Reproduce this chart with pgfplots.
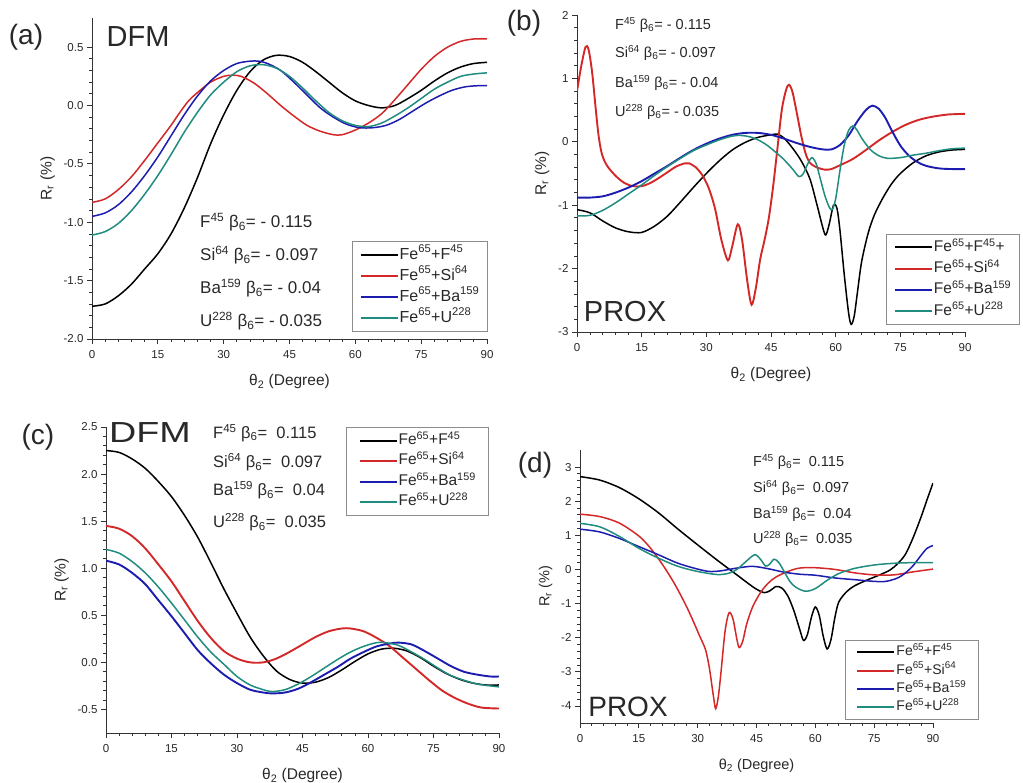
\documentclass[border=0pt]{standalone}
\usepackage{fontspec}
\setmainfont{Liberation Sans}
\usepackage{pgfplots}
\pgfplotsset{compat=1.18}
\definecolor{cred}{RGB}{212,40,40}
\definecolor{cblue}{RGB}{28,28,175}
\definecolor{cteal}{RGB}{32,140,128}
\definecolor{txt}{RGB}{40,40,40}
\pgfplotsset{
  panel/.style={
    scale only axis, axis lines=left, axis line style={-, line width=0.9pt, black!80},
    xmin=0, xmax=90, xtick={0,15,...,90}, minor x tick num=4, minor y tick num=4,
    enlargelimits=false, clip=true,
    tick align=outside, major tick length=5pt, minor tick length=3pt,
    every tick/.style={black!80, line width=0.8pt},
    ticklabel style={font=\fontsize{11.5}{12}\selectfont, text=txt},
    xticklabel style={yshift=-3pt},
    /pgf/number format/assume math mode=true,
    xlabel={θ\textsubscript{2} (Degree)},
    ylabel={R\textsubscript{r} (\%)},
    xlabel style={font=\fontsize{15.5}{17}\selectfont, text=txt, yshift=-9pt},
    ylabel style={font=\fontsize{15.5}{17}\selectfont, text=txt, yshift=2pt},
    legend cell align=left,
    legend image code/.code={\draw[##1, line width=2pt] (0pt,0pt) -- (37pt,0pt);},
    legend style={draw=black!45, line width=0.7pt, inner xsep=6pt, inner ysep=3pt,
       nodes={inner xsep=1pt, inner ysep=2.5pt, text=txt, text height=12pt, text depth=4pt}, row sep=0pt},
    every axis plot/.append style={line width=1.5pt, smooth},
  }
}
\begin{document}
\begin{tikzpicture}[x=1pt,y=1pt]
\path[use as bounding box] (0,0) rectangle (1023,783);
% ---------------- (a)
\begin{axis}[panel, at={(92pt,444pt)}, anchor=south west, width=395pt, height=321pt,
  ymin=-2, ymax=0.75, ytick={-2,-1.5,...,0.5},
  yticklabel style={/pgf/number format/.cd, fixed, fixed zerofill, precision=1},
  legend style={at={(1.003,0.022)}, anchor=south east, font=\fontsize{16}{18}\selectfont, inner xsep=7.5pt}]
\addplot[black] coordinates {(0,-1.72)(3,-1.70)(6,-1.63)(9,-1.53)(12,-1.40)(15,-1.27)(18,-1.10)(21,-0.88)(24,-0.62)(27,-0.33)(30,-0.08)(33,0.13)(36,0.29)(39,0.39)(42,0.43)(45,0.42)(48,0.37)(51,0.29)(54,0.20)(57,0.11)(60,0.04)(63,0.00)(66,-0.02)(69,0.00)(72,0.06)(75,0.13)(78,0.21)(81,0.28)(84,0.33)(87,0.36)(90,0.37)};
\addlegendentry{Fe\textsuperscript{65}+F\textsuperscript{45}}
\addplot[cred] coordinates {(0,-0.83)(3,-0.80)(6,-0.72)(9,-0.61)(12,-0.47)(15,-0.32)(18,-0.17)(20,-0.06)(22,0.04)(24,0.11)(27,0.20)(30,0.25)(32,0.26)(34,0.25)(37,0.19)(40,0.10)(43,0.00)(46,-0.09)(49,-0.17)(52,-0.22)(55,-0.25)(57,-0.25)(60,-0.21)(63,-0.15)(66,-0.07)(69,0.05)(72,0.18)(75,0.31)(78,0.42)(81,0.50)(84,0.55)(87,0.57)(90,0.57)};
\addlegendentry{Fe\textsuperscript{65}+Si\textsuperscript{64}}
\addplot[cblue] coordinates {(0,-0.95)(3,-0.92)(6,-0.85)(9,-0.74)(12,-0.60)(15,-0.44)(18,-0.26)(21,-0.08)(24,0.08)(27,0.21)(30,0.30)(33,0.36)(36,0.38)(38,0.38)(40,0.36)(43,0.30)(46,0.20)(49,0.09)(52,-0.02)(55,-0.10)(58,-0.16)(61,-0.19)(64,-0.19)(67,-0.17)(70,-0.12)(73,-0.05)(76,0.02)(79,0.08)(82,0.13)(85,0.16)(88,0.17)(90,0.17)};
\addlegendentry{Fe\textsuperscript{65}+Ba\textsuperscript{159}}
\addplot[cteal] coordinates {(0,-1.11)(3,-1.08)(6,-1.01)(9,-0.90)(12,-0.76)(15,-0.60)(18,-0.42)(21,-0.23)(24,-0.06)(27,0.09)(30,0.20)(33,0.29)(36,0.34)(39,0.35)(42,0.32)(45,0.25)(48,0.15)(51,0.04)(54,-0.06)(57,-0.13)(60,-0.17)(63,-0.18)(66,-0.15)(69,-0.09)(72,-0.02)(75,0.06)(78,0.14)(81,0.20)(84,0.25)(87,0.27)(90,0.28)};
\addlegendentry{Fe\textsuperscript{65}+U\textsuperscript{228}}
\end{axis}
% ---------------- (b)
\begin{axis}[panel, at={(577pt,451pt)}, anchor=south west, width=388pt, height=317pt,
  ymin=-3, ymax=2, ytick={-3,-2,...,2},
  legend style={at={(1.142,0.022)}, anchor=south east, font=\fontsize{15.5}{17}\selectfont,
     inner xsep=7.5pt, nodes={text height=12pt, text depth=4pt, inner ysep=2.6pt}}]
\addplot[black] coordinates {(0,-1.07)(3,-1.12)(6,-1.25)(9,-1.36)(12,-1.42)(15,-1.43)(18,-1.33)(21,-1.17)(24,-0.95)(27,-0.72)(30,-0.50)(33,-0.30)(36,-0.13)(39,-0.01)(42,0.07)(45,0.11)(46.5,0.12)(48,0.06)(50,-0.10)(52,-0.30)(54,-0.58)(55.5,-0.95)(57,-1.35)(57.7,-1.47)(58.5,-1.30)(59.5,-1.0)(60.3,-1.05)(61,-1.4)(62,-2.1)(63,-2.7)(63.6,-2.88)(64.3,-2.75)(65,-2.4)(66,-1.9)(67.5,-1.45)(69,-1.15)(71,-0.88)(73,-0.66)(75,-0.50)(78,-0.33)(81,-0.22)(84,-0.16)(87,-0.13)(90,-0.12)};
\addlegendentry{Fe\textsuperscript{65}+F\textsuperscript{45}+}
\addplot[cred, line width=1.9pt] coordinates {(0,0.80)(1,1.2)(2,1.5)(2.7,1.45)(3.5,1.1)(4.3,0.55)(5,0.1)(5.8,-0.2)(7,-0.38)(9,-0.54)(11,-0.65)(13,-0.70)(15,-0.70)(17,-0.65)(19,-0.57)(21,-0.48)(23,-0.39)(25,-0.34)(26,-0.34)(27.5,-0.40)(29,-0.52)(30.5,-0.72)(32,-1.05)(33.5,-1.55)(35,-1.87)(36,-1.65)(37.3,-1.3)(38.3,-1.55)(39.5,-2.2)(40.5,-2.57)(41.5,-2.3)(42.5,-1.85)(43.5,-1.55)(44.5,-1.2)(45.5,-0.7)(46.5,-0.1)(47.5,0.5)(48.5,0.82)(49.2,0.9)(50,0.78)(51,0.45)(52,0.1)(53,-0.18)(54,-0.33)(55.5,-0.40)(57.5,-0.44)(59,-0.43)(61,-0.37)(64,-0.27)(67,-0.13)(70,0.02)(73,0.15)(76,0.26)(79,0.34)(82,0.39)(86,0.43)(90,0.44)};
\addlegendentry{Fe\textsuperscript{65}+Si\textsuperscript{64}}
\addplot[cblue, line width=1.9pt] coordinates {(0,-0.88)(3,-0.88)(6,-0.86)(9,-0.80)(12,-0.72)(15,-0.62)(18,-0.50)(21,-0.38)(24,-0.25)(27,-0.13)(30,-0.03)(33,0.05)(36,0.11)(39,0.14)(42,0.14)(45,0.11)(48,0.05)(51,-0.02)(54,-0.08)(57,-0.12)(59,-0.12)(61,-0.05)(63,0.10)(65,0.32)(67,0.50)(68.5,0.57)(70,0.52)(71.5,0.38)(73,0.18)(75,-0.06)(77,-0.22)(79,-0.32)(81,-0.38)(84,-0.42)(87,-0.43)(90,-0.43)};
\addlegendentry{Fe\textsuperscript{65}+Ba\textsuperscript{159}}
\addplot[cteal] coordinates {(0,-1.17)(3,-1.16)(6,-1.08)(9,-0.96)(12,-0.82)(15,-0.68)(18,-0.53)(21,-0.39)(24,-0.26)(27,-0.14)(30,-0.05)(33,0.03)(36,0.09)(38,0.10)(40,0.08)(42,0.03)(44,-0.05)(46,-0.16)(48,-0.28)(50,-0.43)(51.5,-0.55)(52.5,-0.50)(53.5,-0.35)(54.5,-0.25)(55.5,-0.35)(56.5,-0.6)(57.5,-0.85)(58.5,-1.03)(59.2,-1.07)(60,-0.9)(61,-0.45)(62,-0.05)(63,0.18)(64,0.25)(65,0.18)(66,0.06)(68,-0.12)(70,-0.22)(72,-0.26)(75,-0.25)(78,-0.21)(81,-0.18)(84,-0.14)(87,-0.11)(90,-0.10)};
\addlegendentry{Fe\textsuperscript{65}+U\textsuperscript{228}}
\end{axis}
% ---------------- (c)
\begin{axis}[panel, at={(106pt,50pt)}, anchor=south west, width=393pt, height=306pt,
  ymin=-0.75, ymax=2.5, ytick={-0.5,0,...,2.5},
  yticklabel style={/pgf/number format/.cd, fixed, fixed zerofill, precision=1},
  legend style={at={(0.975,1.0)}, anchor=north east, font=\fontsize{15.5}{17}\selectfont,
     inner xsep=12pt, nodes={text height=11.5pt, text depth=4pt, inner ysep=2.5pt}}]
\addplot[black] coordinates {(0,2.25)(3,2.23)(6,2.16)(9,2.06)(12,1.92)(15,1.76)(18,1.56)(21,1.33)(24,1.06)(27,0.78)(30,0.52)(33,0.27)(36,0.07)(39,-0.09)(42,-0.18)(45,-0.22)(48,-0.21)(51,-0.16)(54,-0.08)(57,0.01)(60,0.09)(63,0.14)(66,0.15)(69,0.12)(72,0.05)(75,-0.04)(78,-0.12)(81,-0.18)(84,-0.22)(87,-0.24)(90,-0.24)};
\addlegendentry{Fe\textsuperscript{65}+F\textsuperscript{45}}
\addplot[cred, line width=1.9pt] coordinates {(0,1.45)(3,1.42)(6,1.34)(9,1.21)(12,1.04)(15,0.86)(18,0.65)(21,0.44)(24,0.26)(27,0.12)(30,0.04)(33,0.00)(36,0.00)(39,0.04)(42,0.11)(45,0.19)(48,0.27)(51,0.33)(54,0.36)(56,0.36)(59,0.33)(62,0.26)(65,0.17)(68,0.05)(71,-0.07)(74,-0.19)(77,-0.30)(80,-0.38)(83,-0.44)(86,-0.48)(90,-0.49)};
\addlegendentry{Fe\textsuperscript{65}+Si\textsuperscript{64}}
\addplot[cblue, line width=1.9pt] coordinates {(0,1.08)(3,1.04)(6,0.95)(9,0.83)(12,0.66)(15,0.49)(18,0.31)(21,0.13)(24,-0.01)(27,-0.13)(30,-0.22)(33,-0.29)(36,-0.32)(38,-0.33)(41,-0.32)(44,-0.28)(47,-0.21)(50,-0.13)(53,-0.05)(56,0.04)(59,0.11)(62,0.17)(65,0.20)(67,0.21)(70,0.19)(73,0.12)(76,0.04)(79,-0.04)(82,-0.10)(85,-0.13)(88,-0.15)(90,-0.15)};
\addlegendentry{Fe\textsuperscript{65}+Ba\textsuperscript{159}}
\addplot[cteal] coordinates {(0,1.20)(3,1.16)(6,1.07)(9,0.95)(12,0.80)(15,0.63)(18,0.45)(21,0.27)(24,0.11)(27,-0.02)(30,-0.15)(33,-0.24)(36,-0.29)(38,-0.31)(41,-0.29)(44,-0.23)(47,-0.15)(50,-0.06)(53,0.03)(56,0.11)(59,0.17)(62,0.21)(64,0.21)(67,0.18)(70,0.11)(73,0.03)(76,-0.06)(79,-0.14)(82,-0.19)(85,-0.23)(88,-0.25)(90,-0.26)};
\addlegendentry{Fe\textsuperscript{65}+U\textsuperscript{228}}
\end{axis}
% ---------------- (d)
\begin{axis}[panel, at={(580pt,60pt)}, anchor=south west, width=353pt, height=273pt,
  ymin=-4.5, ymax=3.5, ytick={-4,-3,...,3},
  xlabel style={font=\fontsize{14.5}{16}\selectfont},
  ylabel style={font=\fontsize{14.5}{16}\selectfont},
  legend style={at={(0.751,0.011)}, anchor=south west, font=\fontsize{14}{16}\selectfont,
     inner xsep=11pt, nodes={text height=10.5pt, text depth=3.5pt, inner ysep=2.2pt}}]
\addplot[black] coordinates {(0,2.72)(5,2.62)(10,2.40)(15,2.07)(20,1.66)(25,1.18)(30,0.72)(35,0.27)(40,-0.16)(43,-0.42)(45,-0.58)(47,-0.68)(48.5,-0.62)(50,-0.50)(51.5,-0.55)(53,-0.78)(54.5,-1.2)(56,-1.75)(57,-2.08)(58,-1.9)(59,-1.4)(60,-1.1)(61,-1.35)(62,-1.95)(63,-2.33)(64,-2.05)(65,-1.4)(66,-0.95)(68,-0.65)(70,-0.48)(73,-0.32)(76,-0.18)(79,-0.02)(81,0.17)(83,0.45)(85,0.95)(87,1.55)(88.5,2.05)(90,2.53)};
\addlegendentry{Fe\textsuperscript{65}+F\textsuperscript{45}}
\addplot[cred] coordinates {(0,1.62)(5,1.55)(10,1.36)(15,0.98)(18,0.62)(21,0.15)(24,-0.40)(27,-1.05)(29,-1.55)(30.5,-1.95)(32,-2.35)(33,-2.9)(34,-3.7)(34.6,-4.08)(35.3,-3.7)(36,-2.95)(37,-1.8)(38,-1.27)(39,-1.45)(40,-2.05)(40.6,-2.29)(41.5,-2.1)(42.5,-1.6)(44,-1.1)(46,-0.68)(48,-0.4)(50,-0.22)(53,-0.06)(56,0.04)(60,0.05)(65,0.0)(70,-0.10)(75,-0.16)(80,-0.16)(85,-0.07)(90,0.01)};
\addlegendentry{Fe\textsuperscript{65}+Si\textsuperscript{64}}
\addplot[cblue] coordinates {(0,1.18)(5,1.10)(10,0.91)(15,0.67)(20,0.43)(25,0.18)(30,0.01)(33,-0.06)(36,-0.04)(40,0.04)(44,0.09)(48,0.02)(52,-0.08)(56,-0.14)(60,-0.17)(65,-0.25)(70,-0.30)(75,-0.35)(78,-0.35)(81,-0.25)(83,-0.1)(85,0.12)(87,0.42)(88.5,0.62)(90,0.70)};
\addlegendentry{Fe\textsuperscript{65}+Ba\textsuperscript{159}}
\addplot[cteal] coordinates {(0,1.35)(5,1.25)(10,0.97)(15,0.62)(20,0.33)(25,0.09)(30,-0.06)(35,-0.15)(38,-0.11)(40,0.0)(42,0.2)(44.5,0.43)(46,0.3)(47.3,0.1)(48.3,0.15)(49.5,0.30)(50.7,0.2)(52,-0.05)(53.5,-0.35)(55,-0.52)(57.5,-0.64)(60,-0.56)(63,-0.32)(66,-0.12)(70,0.03)(75,0.13)(80,0.18)(85,0.20)(90,0.20)};
\addlegendentry{Fe\textsuperscript{65}+U\textsuperscript{228}}
\end{axis}
% ---------------- labels
\begin{scope}[every node/.style={text=txt, inner sep=0pt}]
\node[font=\fontsize{28}{30}\selectfont] at (26,746) {(a)};
\node[font=\fontsize{29}{31}\selectfont] at (138,746) {DFM};
\node[font=\fontsize{28}{30}\selectfont] at (524,760) {(b)};
\node[font=\fontsize{29}{31}\selectfont] at (625,471) {PROX};
\node[font=\fontsize{28}{30}\selectfont] at (38,346) {(c)};
\node[font=\fontsize{29}{31}\selectfont, xscale=1.3] at (150,350) {DFM};
\node[font=\fontsize{28}{30}\selectfont] at (535,318) {(d)};
\node[font=\fontsize{28}{30}\selectfont] at (628,76) {PROX};
\begin{scope}[every node/.append style={anchor=west, font=\fontsize{17}{19}\selectfont}]
\node at (200,561) {F\textsuperscript{45} β\textsubscript{6}= - 0.115};
\node at (200,528) {Si\textsuperscript{64} β\textsubscript{6}= - 0.097};
\node at (200,495) {Ba\textsuperscript{159} β\textsubscript{6}= - 0.04};
\node at (200,462) {U\textsuperscript{228} β\textsubscript{6}= - 0.035};
\end{scope}
\begin{scope}[every node/.append style={anchor=west, font=\fontsize{14.5}{16}\selectfont}]
\node at (615,758) {F\textsuperscript{45} β\textsubscript{6}= - 0.115};
\node at (615,730) {Si\textsuperscript{64} β\textsubscript{6}= - 0.097};
\node at (615,700) {Ba\textsuperscript{159} β\textsubscript{6}= - 0.04};
\node at (615,671) {U\textsuperscript{228} β\textsubscript{6}= - 0.035};
\end{scope}
\begin{scope}[every node/.append style={anchor=west, font=\fontsize{16.5}{18}\selectfont}]
\node at (213,350) {F\textsuperscript{45} β\textsubscript{6}=\ \ 0.115};
\node at (213,321) {Si\textsuperscript{64} β\textsubscript{6}=\ \ 0.097};
\node at (213,293) {Ba\textsuperscript{159} β\textsubscript{6}=\ \ 0.04};
\node at (213,261) {U\textsuperscript{228} β\textsubscript{6}=\ \ 0.035};
\end{scope}
\begin{scope}[every node/.append style={anchor=west, font=\fontsize{14.5}{16}\selectfont}]
\node at (753,321) {F\textsuperscript{45} β\textsubscript{6}=\ \ 0.115};
\node at (753,295) {Si\textsuperscript{64} β\textsubscript{6}=\ \ 0.097};
\node at (753,269) {Ba\textsuperscript{159} β\textsubscript{6}=\ \ 0.04};
\node at (753,244) {U\textsuperscript{228} β\textsubscript{6}=\ \ 0.035};
\end{scope}
\end{scope}
\end{tikzpicture}
\end{document}
